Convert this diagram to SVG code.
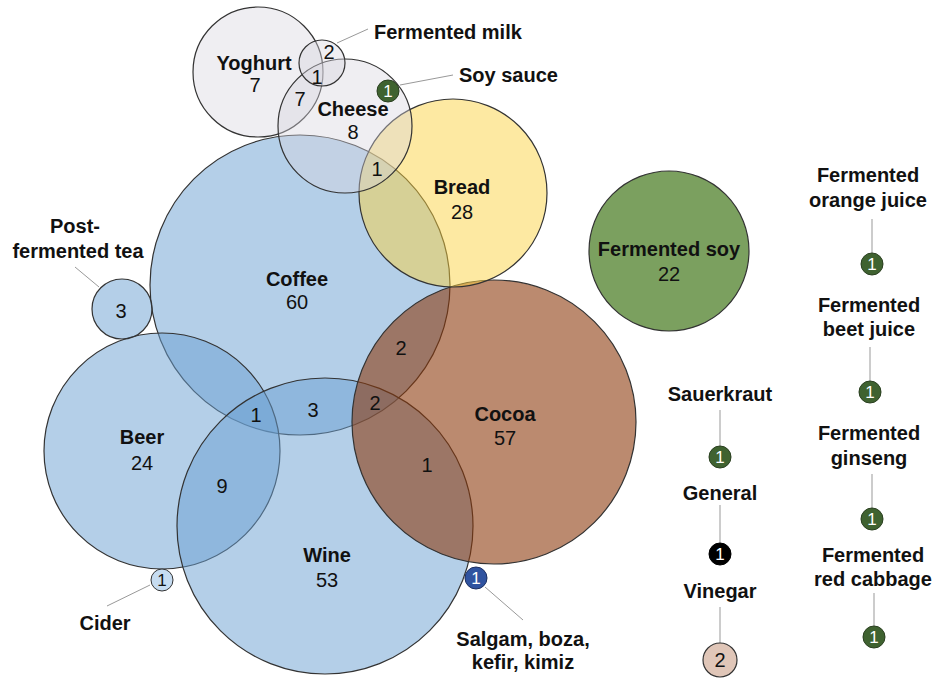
<svg xmlns="http://www.w3.org/2000/svg" width="940" height="679" viewBox="0 0 940 679">
<style>
.blue{fill:#699fd1;fill-opacity:0.5;stroke:#333;stroke-width:1.2}
.cocoa{fill:#8b380b;fill-opacity:0.59;stroke:#333;stroke-width:1.2}
.bread{fill:#fbd03d;fill-opacity:0.48;stroke:#333;stroke-width:1.2}
.dairy{fill:#d6d4de;fill-opacity:0.4;stroke:#333;stroke-width:1.2}
.soy{fill:#7ba05f;stroke:#333;stroke-width:1.2}
.dg{fill:#3f6230;stroke:#2a3f20;stroke-width:1}
.lbl{font-family:"Liberation Sans",Arial,sans-serif;font-weight:bold;font-size:20px;fill:#111;text-anchor:middle}
.num{font-family:"Liberation Sans",Arial,sans-serif;font-size:20px;fill:#111;text-anchor:middle}
.sm{font-family:"Liberation Sans",Arial,sans-serif;font-size:17px;text-anchor:middle}
.w{fill:#fff}
.k{fill:#111}
.lead{stroke:#999;stroke-width:1;fill:none}
</style>
<rect width="940" height="679" fill="#fff"/>
<g id="coffee"><circle class="blue" cx="300" cy="285" r="150"/></g>
<g id="beer"><circle class="blue" cx="162" cy="451" r="118"/></g>
<g id="wine"><circle class="blue" cx="325" cy="526" r="148"/></g>
<g id="post-fermented-tea"><circle class="blue" cx="122" cy="309" r="30"/></g>
<g id="cocoa"><circle class="cocoa" cx="494" cy="422" r="142"/></g>
<g id="bread"><circle class="bread" cx="453" cy="193" r="94"/></g>
<g id="yoghurt"><circle class="dairy" cx="258" cy="72" r="65"/></g>
<g id="cheese"><circle class="dairy" cx="345" cy="126" r="67"/></g>
<g id="fermented-milk"><circle class="dairy" cx="322" cy="63" r="23"/></g>
<g id="fermented-soy"><circle class="soy" cx="669" cy="251" r="80"/>
<text class="lbl" x="669" y="256">Fermented soy</text><text class="num" x="669" y="281">22</text></g>

<g id="connectors">
<line class="lead" x1="337" y1="43" x2="368" y2="29"/>
<line class="lead" x1="400" y1="85" x2="453" y2="75"/>
<line class="lead" x1="75" y1="267" x2="99" y2="287"/>
<line class="lead" x1="150" y1="585" x2="107" y2="606"/>
<line class="lead" x1="485" y1="587" x2="523" y2="620"/>
<line class="lead" x1="872" y1="219" x2="872" y2="253"/>
<line class="lead" x1="870" y1="347" x2="870" y2="381"/>
<line class="lead" x1="872" y1="474" x2="872" y2="508"/>
<line class="lead" x1="874" y1="593" x2="874" y2="626"/>
<line class="lead" x1="720" y1="410" x2="720" y2="446"/>
<line class="lead" x1="720" y1="505" x2="720" y2="543"/>
<line class="lead" x1="720" y1="607" x2="720" y2="643"/>
</g>

<g id="labels">
<text class="lbl" x="254" y="70">Yoghurt</text><text class="num" x="255" y="92">7</text>
<text class="lbl" x="374" y="39" style="text-anchor:start">Fermented milk</text>
<text class="num" x="329" y="59">2</text>
<text class="num" x="317" y="84">1</text>
<text class="num" x="300" y="106">7</text>
<text class="lbl" x="459" y="82" style="text-anchor:start">Soy sauce</text>
<text class="lbl" x="353" y="116">Cheese</text><text class="num" x="353" y="139">8</text>
<text class="num" x="377" y="176">1</text>
<text class="lbl" x="462" y="194">Bread</text><text class="num" x="462" y="219">28</text>
<text class="lbl" x="297" y="286">Coffee</text><text class="num" x="297" y="309">60</text>
<text class="lbl" x="75" y="233">Post-</text><text class="lbl" x="78" y="258">fermented tea</text>
<text class="num" x="121" y="318">3</text>
<text class="num" x="401" y="355">2</text>
<text class="lbl" x="505" y="421">Cocoa</text><text class="num" x="505" y="445">57</text>
<text class="num" x="375" y="410">2</text>
<text class="num" x="256" y="422">1</text>
<text class="num" x="313" y="417">3</text>
<text class="num" x="222" y="493">9</text>
<text class="num" x="427" y="472">1</text>
<text class="lbl" x="142" y="444">Beer</text><text class="num" x="142" y="470">24</text>
<text class="lbl" x="327" y="562">Wine</text><text class="num" x="327" y="587">53</text>
<text class="lbl" x="105" y="630">Cider</text>
<text class="lbl" x="523" y="646">Salgam, boza,</text><text class="lbl" x="523" y="669">kefir, kimiz</text>
<text class="lbl" x="868" y="182">Fermented</text><text class="lbl" x="868" y="207">orange juice</text>
<text class="lbl" x="869" y="312">Fermented</text><text class="lbl" x="869" y="336">beet juice</text>
<text class="lbl" x="869" y="440">Fermented</text><text class="lbl" x="869" y="465">ginseng</text>
<text class="lbl" x="873" y="562">Fermented</text><text class="lbl" x="873" y="586">red cabbage</text>
<text class="lbl" x="720" y="401">Sauerkraut</text>
<text class="lbl" x="720" y="500">General</text>
<text class="lbl" x="720" y="598">Vinegar</text>
</g>

<g id="soy-sauce"><circle class="dg" cx="388" cy="91" r="11"/><text class="sm w" x="388" y="97">1</text></g>
<g id="cider"><circle cx="162" cy="580" r="11" fill="#c6dcf1" stroke="#333" stroke-width="1"/><text class="sm k" x="162" y="586">1</text></g>
<g id="salgam"><circle cx="476" cy="578" r="11" fill="#2f53a0" stroke="#1c2f60" stroke-width="1"/><text class="sm w" x="476" y="584">1</text></g>
<g id="orange-juice"><circle class="dg" cx="872" cy="264" r="11"/><text class="sm w" x="872" y="270">1</text></g>
<g id="beet-juice"><circle class="dg" cx="870" cy="392" r="11"/><text class="sm w" x="870" y="398">1</text></g>
<g id="ginseng"><circle class="dg" cx="872" cy="519" r="11"/><text class="sm w" x="872" y="525">1</text></g>
<g id="red-cabbage"><circle class="dg" cx="874" cy="637" r="11"/><text class="sm w" x="874" y="643">1</text></g>
<g id="sauerkraut"><circle class="dg" cx="720" cy="457" r="11"/><text class="sm w" x="720" y="463">1</text></g>
<g id="general"><circle cx="720" cy="554" r="11" fill="#000" stroke="#000"/><text class="sm w" x="720" y="560">1</text></g>
<g id="vinegar"><circle cx="720" cy="660" r="17" fill="#e0c6b8" stroke="#333" stroke-width="1.2"/><text class="num" x="720" y="667">2</text></g>
</svg>
